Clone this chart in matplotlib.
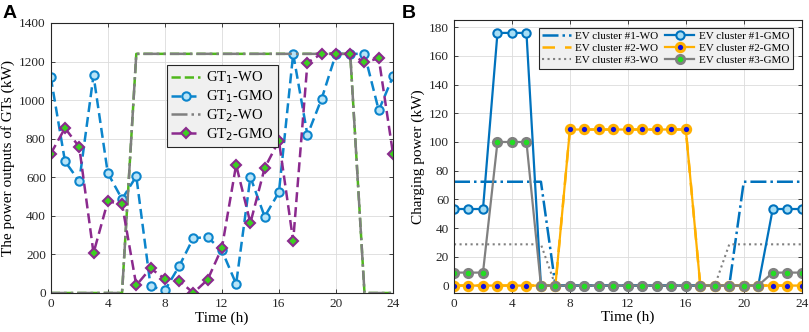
import numpy as np
import matplotlib.pyplot as plt

# ---- data ----
hours = list(range(25))

gt1_wo = [0, 0, 0, 0, 0, 0] + [1240] * 16 + [0, 0, 0]
gt1_gmo = [1120, 683, 579, 1128, 622, 487, 605, 35, 14, 138, 285, 289, 221,
           47, 601, 396, 522, 1240, 819, 1008, 1240, 1240, 1240, 947, 1123]
gt2_wo = [0, 0, 0, 0, 0, 0] + [1240] * 16 + [0, 0, 0]
gt2_gmo = [722, 855, 757, 207, 475, 461, 40, 128, 73, 64, 0, 69, 233,
           664, 363, 648, 790, 270, 1194, 1241, 1240, 1240, 1196, 1217, 722]

ev1_wo = [72.3] * 7 + [0] * 13 + [72.3] * 5
ev1_gmo = [53.3, 53.3, 53.3, 176, 176, 176] + [0] * 16 + [53.3, 53.3, 53.3]
ev2_wo = [0] * 8 + [108.7] * 9 + [0] * 8
ev2_gmo = [0] * 8 + [108.7] * 9 + [0] * 8
ev3_wo = [28.7] * 7 + [0] * 12 + [28.7] * 6
ev3_gmo = [9, 9, 9, 100, 100, 100] + [0] * 16 + [9, 9, 9]

plt.rcParams['font.family'] = ['Liberation Serif', 'DejaVu Serif']
plt.rcParams['font.size'] = 10

fig = plt.figure(figsize=(8.09, 3.32), dpi=100)
axA = fig.add_axes([0.0627, 0.1175, 0.4231, 0.8133])
axB = fig.add_axes([0.5612, 0.1184, 0.4298, 0.8214])


def style_axes(ax):
    ax.grid(True, color='#dcdcdc', linewidth=0.6)
    ax.set_axisbelow(True)
    for s in ax.spines.values():
        s.set_color('#262626')
        s.set_linewidth(0.8)
    ax.tick_params(direction='in', top=True, right=True, length=3,
                   width=0.6, labelsize=9.5, colors='#262626')


# ---- panel A ----
axA.plot(hours, gt1_wo, '--', color='#4fb81c', lw=1.8, label='GT$_1$-WO')
axA.plot(hours, gt1_gmo, '--', color='#0c85cc', lw=1.8, dashes=(4, 2),
         marker='o', ms=6, mfc='#b8e4f7', mec='#0c85cc', mew=1.5,
         label='GT$_1$-GMO')
axA.plot(hours, gt2_wo, '-.', color='#7f7f7f', lw=1.8, label='GT$_2$-WO')
axA.plot(hours, gt2_gmo, '--', color='#8b2a8e', lw=1.8, dashes=(4, 2),
         marker='D', ms=5, mfc='#3cd020', mec='#8b2a8e', mew=1.5,
         label='GT$_2$-GMO')
axA.set_xlim(0, 24)
axA.set_ylim(0, 1400)
axA.set_xticks(range(0, 25, 4))
axA.set_yticks(range(0, 1401, 200))
axA.set_xlabel('Time (h)', fontsize=11, labelpad=1)
axA.set_ylabel('The power outputs of GTs (kW)', fontsize=11, labelpad=3)
style_axes(axA)
legA = axA.legend(loc='upper left', bbox_to_anchor=(0.318, 0.87),
                  fontsize=10.5, frameon=True, fancybox=False,
                  edgecolor='#262626', facecolor='#f0f0f0', framealpha=1,
                  handlelength=2.0, handletextpad=0.4, borderpad=0.3,
                  labelspacing=0.15)
legA.get_frame().set_linewidth(0.8)

# ---- panel B ----
axB.plot(hours, ev1_wo, '-.', color='#0072bd', lw=1.8,
         label='EV cluster #1-WO')
axB.plot(hours, ev2_wo, '--', color='#ffb000', lw=1.8, dashes=(5, 4),
         label='EV cluster #2-WO')
axB.plot(hours, ev3_wo, ':', color='#808080', lw=1.5,
         label='EV cluster #3-WO')
axB.plot(hours, ev1_gmo, '-', color='#0072bd', lw=1.6, marker='o', ms=6,
         mfc='#a6def5', mec='#0072bd', mew=1.5, label='EV cluster #1-GMO')
axB.plot(hours, ev2_gmo, '-', color='#ffb000', lw=1.6, marker='o', ms=6,
         mfc='#1010e0', mec='#ffb000', mew=2.2, label='EV cluster #2-GMO')
axB.plot(hours, ev3_gmo, '-', color='#808080', lw=1.6, marker='o', ms=6,
         mfc='#22dd22', mec='#808080', mew=2.0, label='EV cluster #3-GMO')
axB.set_xlim(0, 24)
axB.set_ylim(-5, 185)
axB.set_xticks(range(0, 25, 4))
axB.set_yticks(range(0, 181, 20))
axB.set_xlabel('Time (h)', fontsize=11, labelpad=1)
axB.set_ylabel('Charging power (kW)', fontsize=11, labelpad=3)
style_axes(axB)
legB = axB.legend(loc='upper right', bbox_to_anchor=(0.99, 0.99), ncol=2,
                  fontsize=8, frameon=True, fancybox=False,
                  edgecolor='#262626', facecolor='#f0f0f0', framealpha=1,
                  handlelength=2.6, handletextpad=0.4, borderpad=0.3,
                  labelspacing=0.2, columnspacing=0.6)
legB.get_frame().set_linewidth(0.8)

# panel letters
fig.text(0.003, 0.985, 'A', fontsize=14, fontweight='bold',
         family='Liberation Sans', va='top')
fig.text(0.497, 0.985, 'B', fontsize=14, fontweight='bold',
         family='Liberation Sans', va='top')

fig.savefig('out.png', dpi=100)
